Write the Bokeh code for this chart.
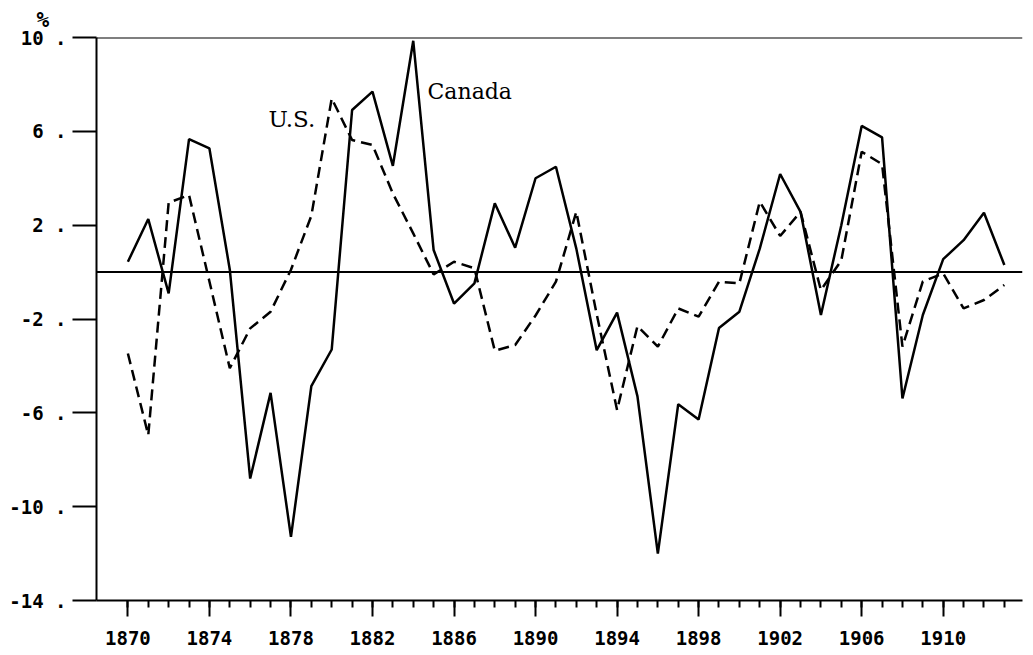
from bokeh.plotting import figure
from bokeh.models import Range1d, FixedTicker, Span, Label
from bokeh.embed import file_html
from bokeh.resources import INLINE

years = list(range(1870, 1914))
canada = [0.44, 2.26, -0.91, 5.67, 5.27, 0.1, -8.8, -5.15, -11.29, -4.86,
          -3.3, 6.91, 7.69, 4.53, 9.86, 0.94, -1.34, -0.48, 2.93, 1.04,
          4.0, 4.49, 1.0, -3.33, -1.73, -5.3, -12.0, -5.63, -6.28, -2.38,
          -1.69, 1.0, 4.18, 2.57, -1.83, 2.0, 6.23, 5.74, -5.39, -1.83,
          0.55, 1.36, 2.53, 0.3]
us = [-3.47, -6.95, 2.96, 3.28, -0.4, -4.1, -2.4, -1.69, 0.1, 2.4,
      7.4, 5.63, 5.42, 3.35, 1.65, -0.1, 0.44, 0.16, -3.35, -3.11,
      -1.85, -0.41, 2.57, -1.8, -5.88, -2.3, -3.18, -1.55, -1.9, -0.41,
      -0.48, 3.0, 1.54, 2.57, -0.77, 0.5, 5.13, 4.6, -3.18, -0.4,
      -0.06, -1.55, -1.19, -0.55]

y_ticks = [10, 6, 2, -2, -6, -10, -14]
y_tick_labels = ["10 .", "6 .", "2 .", "-2 .", "-6 .", "-10 .", "-14 ."]
x_major = list(range(1870, 1911, 4))
x_minor = list(range(1870, 1914))

p = figure(width=1025, height=647, output_backend="svg", toolbar_location=None,
           x_range=Range1d(1868.46, 1913.89), y_range=Range1d(-14, 10),
           min_border_left=96, min_border_right=3, min_border_top=37,
           min_border_bottom=47)
p.outline_line_color = None
p.grid.visible = False
p.background_fill_color = "white"
p.border_fill_color = "white"

p.title.text = "%"
p.title.align = "left"
p.title.offset = -60
p.title.standoff = 11
p.title.text_font = "DejaVu Sans Mono"
p.title.text_font_style = "bold"
p.title.text_font_size = "21px"
p.title.text_color = "black"

# axes
xa = p.xaxis[0]
xa.ticker = FixedTicker(ticks=x_major, minor_ticks=x_minor)
xa.major_tick_in = 0
xa.major_tick_out = 16
xa.minor_tick_in = 0
xa.minor_tick_out = 7
xa.axis_line_width = 2
xa.major_tick_line_width = 2
xa.minor_tick_line_width = 2
xa.major_label_text_font = "DejaVu Sans Mono"
xa.major_label_text_font_style = "bold"
xa.major_label_text_font_size = "19px"
xa.major_label_text_color = "black"
xa.major_label_standoff = 14

ya = p.yaxis[0]
ya.ticker = FixedTicker(ticks=y_ticks, minor_ticks=[])
ya.major_label_overrides = {t: s for t, s in zip(y_ticks, y_tick_labels)}
ya.major_tick_in = 0
ya.major_tick_out = 24
ya.minor_tick_out = 0
ya.minor_tick_in = 0
ya.axis_line_width = 2
ya.major_tick_line_width = 2
ya.major_label_text_font = "DejaVu Sans Mono"
ya.major_label_text_font_style = "bold"
ya.major_label_text_font_size = "19px"
ya.major_label_text_color = "black"
ya.major_label_standoff = 6

p.add_layout(Span(location=10, dimension="width", line_color="black", line_width=2))
p.add_layout(Span(location=0, dimension="width", line_color="black", line_width=2))

p.line(years, canada, line_color="black", line_width=2.5)
p.line(years, us, line_color="black", line_width=2.5, line_dash="11 6")

p.add_layout(Label(x=1884.7, y=7.7, text="Canada", text_align="left",
                   text_baseline="middle", text_font="DejaVu Serif",
                   text_font_size="22px", text_color="black"))
p.add_layout(Label(x=1876.9, y=6.52, text="U.S.", text_align="left",
                   text_baseline="middle", text_font="DejaVu Serif",
                   text_font_size="23px", text_color="black"))

open("out.html", "w").write(file_html(p, INLINE))
